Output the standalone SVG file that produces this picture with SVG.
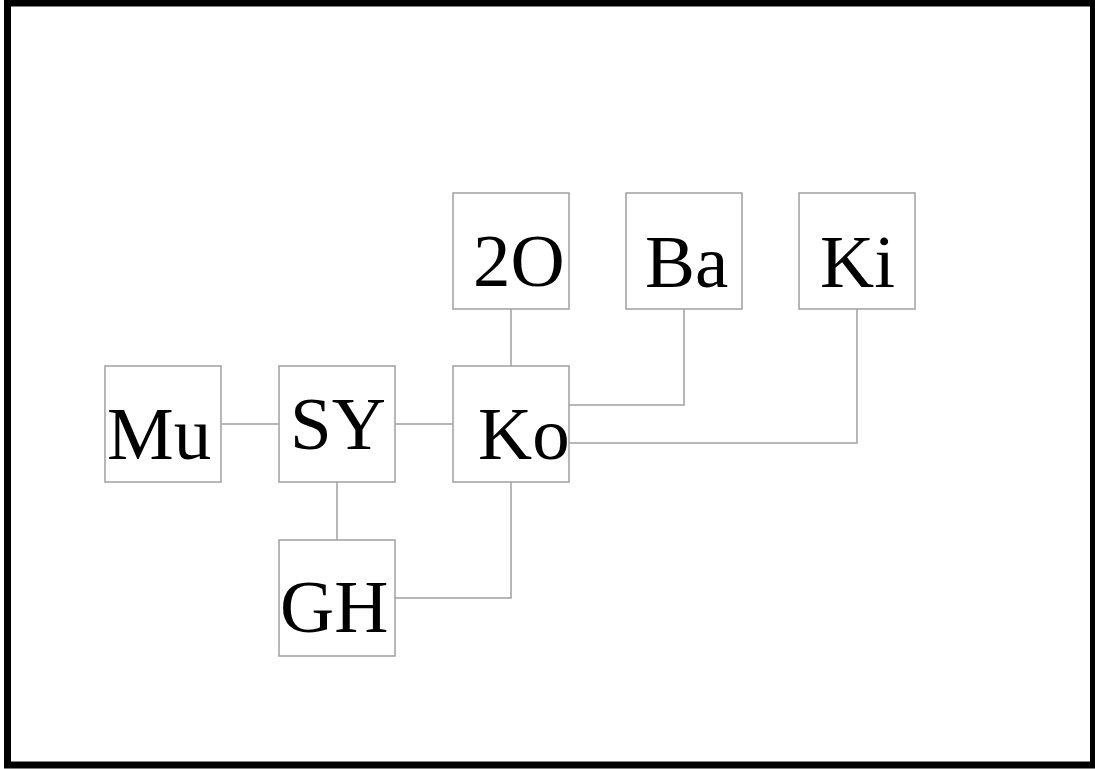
<svg xmlns="http://www.w3.org/2000/svg" width="1095" height="769" viewBox="0 0 1095 769">
<style>
.box{fill:#fff;stroke:#a0a0a0;stroke-width:1.5}
.lbl{font-family:"Liberation Serif","Times New Roman",serif;font-size:75px;fill:#000}
.con{fill:none;stroke:#a0a0a0;stroke-width:1.5}
</style>
<rect x="0" y="0" width="1095" height="769" fill="#fff"/>
<rect x="7.5" y="3" width="1086" height="762" fill="none" stroke="#000" stroke-width="7"/>
<g id="connectors">
<path class="con" d="M221,424 H279"/>
<path class="con" d="M395,424 H453"/>
<path class="con" d="M511,309 V366"/>
<path class="con" d="M569,405 H684 V309"/>
<path class="con" d="M569,443 H857 V309"/>
<path class="con" d="M337,482 V540"/>
<path class="con" d="M395,598 H511 V482"/>
</g>
<g id="n2O"><rect class="box" x="453" y="193" width="116" height="116"/><text class="lbl" x="473" y="286">2O</text></g>
<g id="nBa"><rect class="box" x="626" y="193" width="116" height="116"/><text class="lbl" x="645" y="287">Ba</text></g>
<g id="nKi"><rect class="box" x="799" y="193" width="116" height="116"/><text class="lbl" x="820" y="287">Ki</text></g>
<g id="nMu"><rect class="box" x="105" y="366" width="116" height="116"/><text class="lbl" x="107" y="459">Mu</text></g>
<g id="nSY"><rect class="box" x="279" y="366" width="116" height="116"/><text class="lbl" x="290" y="449">SY</text></g>
<g id="nKo"><rect class="box" x="453" y="366" width="116" height="116"/><text class="lbl" x="478" y="459">Ko</text></g>
<g id="nGH"><rect class="box" x="279" y="540" width="116" height="116"/><text class="lbl" x="280" y="632">GH</text></g>
</svg>
